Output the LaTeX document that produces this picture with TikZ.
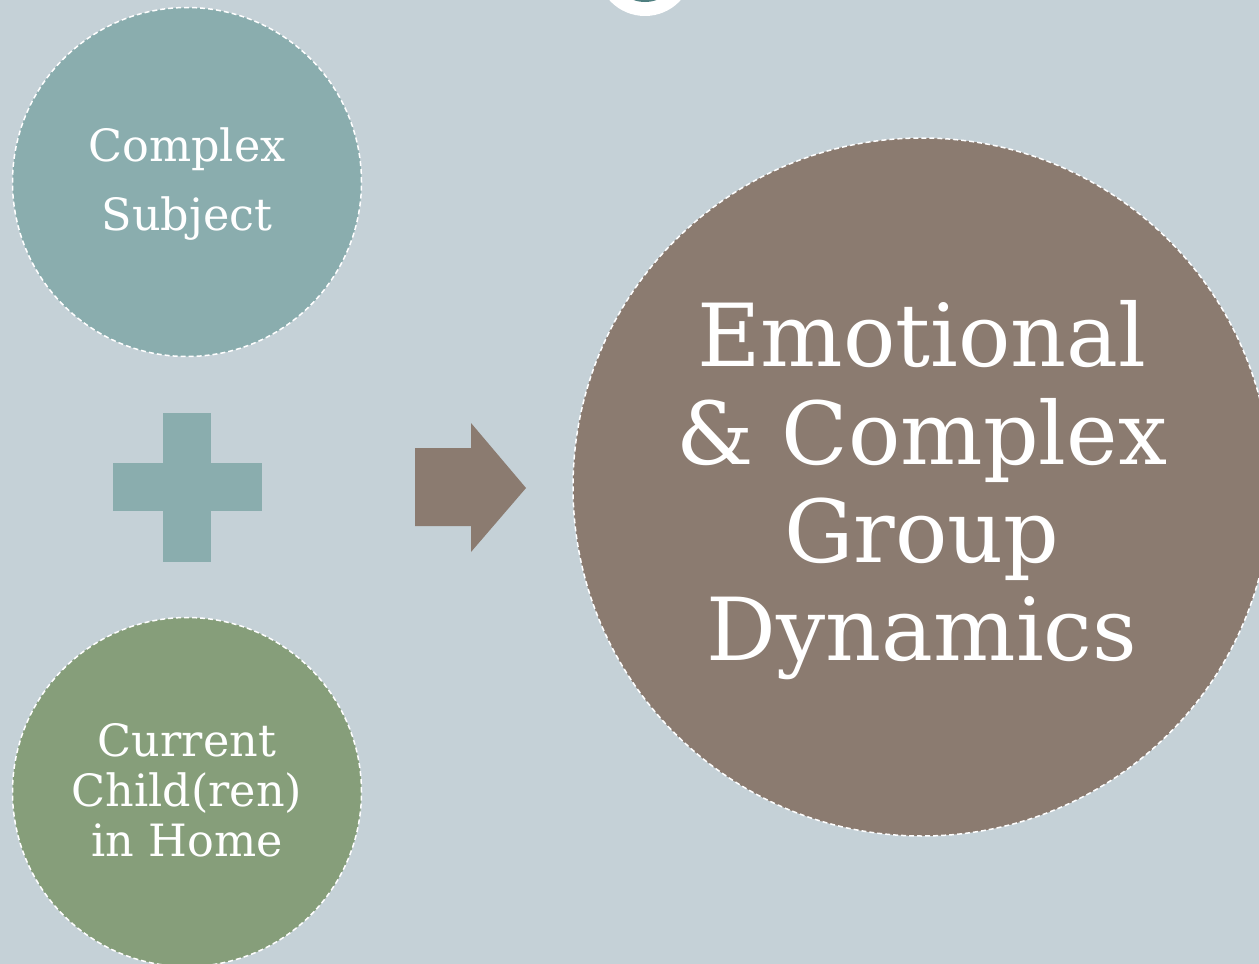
\documentclass[tikz,border=0pt]{standalone}
\usepackage{fontspec}
\setmainfont{DejaVu Serif}
\definecolor{bgc}{HTML}{C5D1D7}
\definecolor{tealc}{HTML}{8AADAE}
\definecolor{greenc}{HTML}{869E7A}
\definecolor{brownc}{HTML}{8B7B70}
\definecolor{darkteal}{HTML}{4F7F80}
\begin{document}
\begin{tikzpicture}[x=1pt,y=-1pt,
  bubble/.style={circle, draw=white, line width=1.5pt, dash pattern=on 5pt off 3pt, inner sep=0pt},
  smalltxt/.style={text=white, font=\fontsize{44.5}{50}\selectfont, align=center},
  bigtxt/.style={text=white, font=\fontsize{87}{98}\selectfont, align=center}]
  \useasboundingbox (0,0) rectangle (1259,964);
  \fill[bgc] (0,0) rectangle (1259,964);
  % ring peeking in at the top
  \begin{scope}
    \clip (0,0) rectangle (1259,964);
    \fill[white] (645,-32) circle (48);
    \fill[darkteal] (645,-32) circle (34);
    \fill[white] (645,-32) circle (30);
  \end{scope}
  % bubbles
  \node[bubble, fill=tealc, minimum size=349pt] (subj) at (187,182) {};
  \node[bubble, fill=greenc, minimum size=349pt] (home) at (187,792) {};
  \begin{scope}
    \clip (0,0) rectangle (1259,964);
    \node[bubble, fill=brownc, minimum size=698pt] (dyn) at (922,487) {};
  \end{scope}
  \node[smalltxt] (t1) at (187,149) {Complex};
  \node[smalltxt] (t2) at (187,219) {Subject};
  \node[smalltxt] (t3) at (187,790) {Current\\Child(ren)\\in Home};
  \node[bigtxt] (t4) at (922,490) {Emotional\\\&~Complex\\Group\\Dynamics};
  % plus sign
  \fill[tealc] (163,413) rectangle (211,562);
  \fill[tealc] (113,463) rectangle (262,511);
  % block arrow
  \fill[brownc] (415,448) -- (471,448) -- (471,423) -- (526,488) -- (471,552) -- (471,526) -- (415,526) -- cycle;
\end{tikzpicture}
\end{document}
